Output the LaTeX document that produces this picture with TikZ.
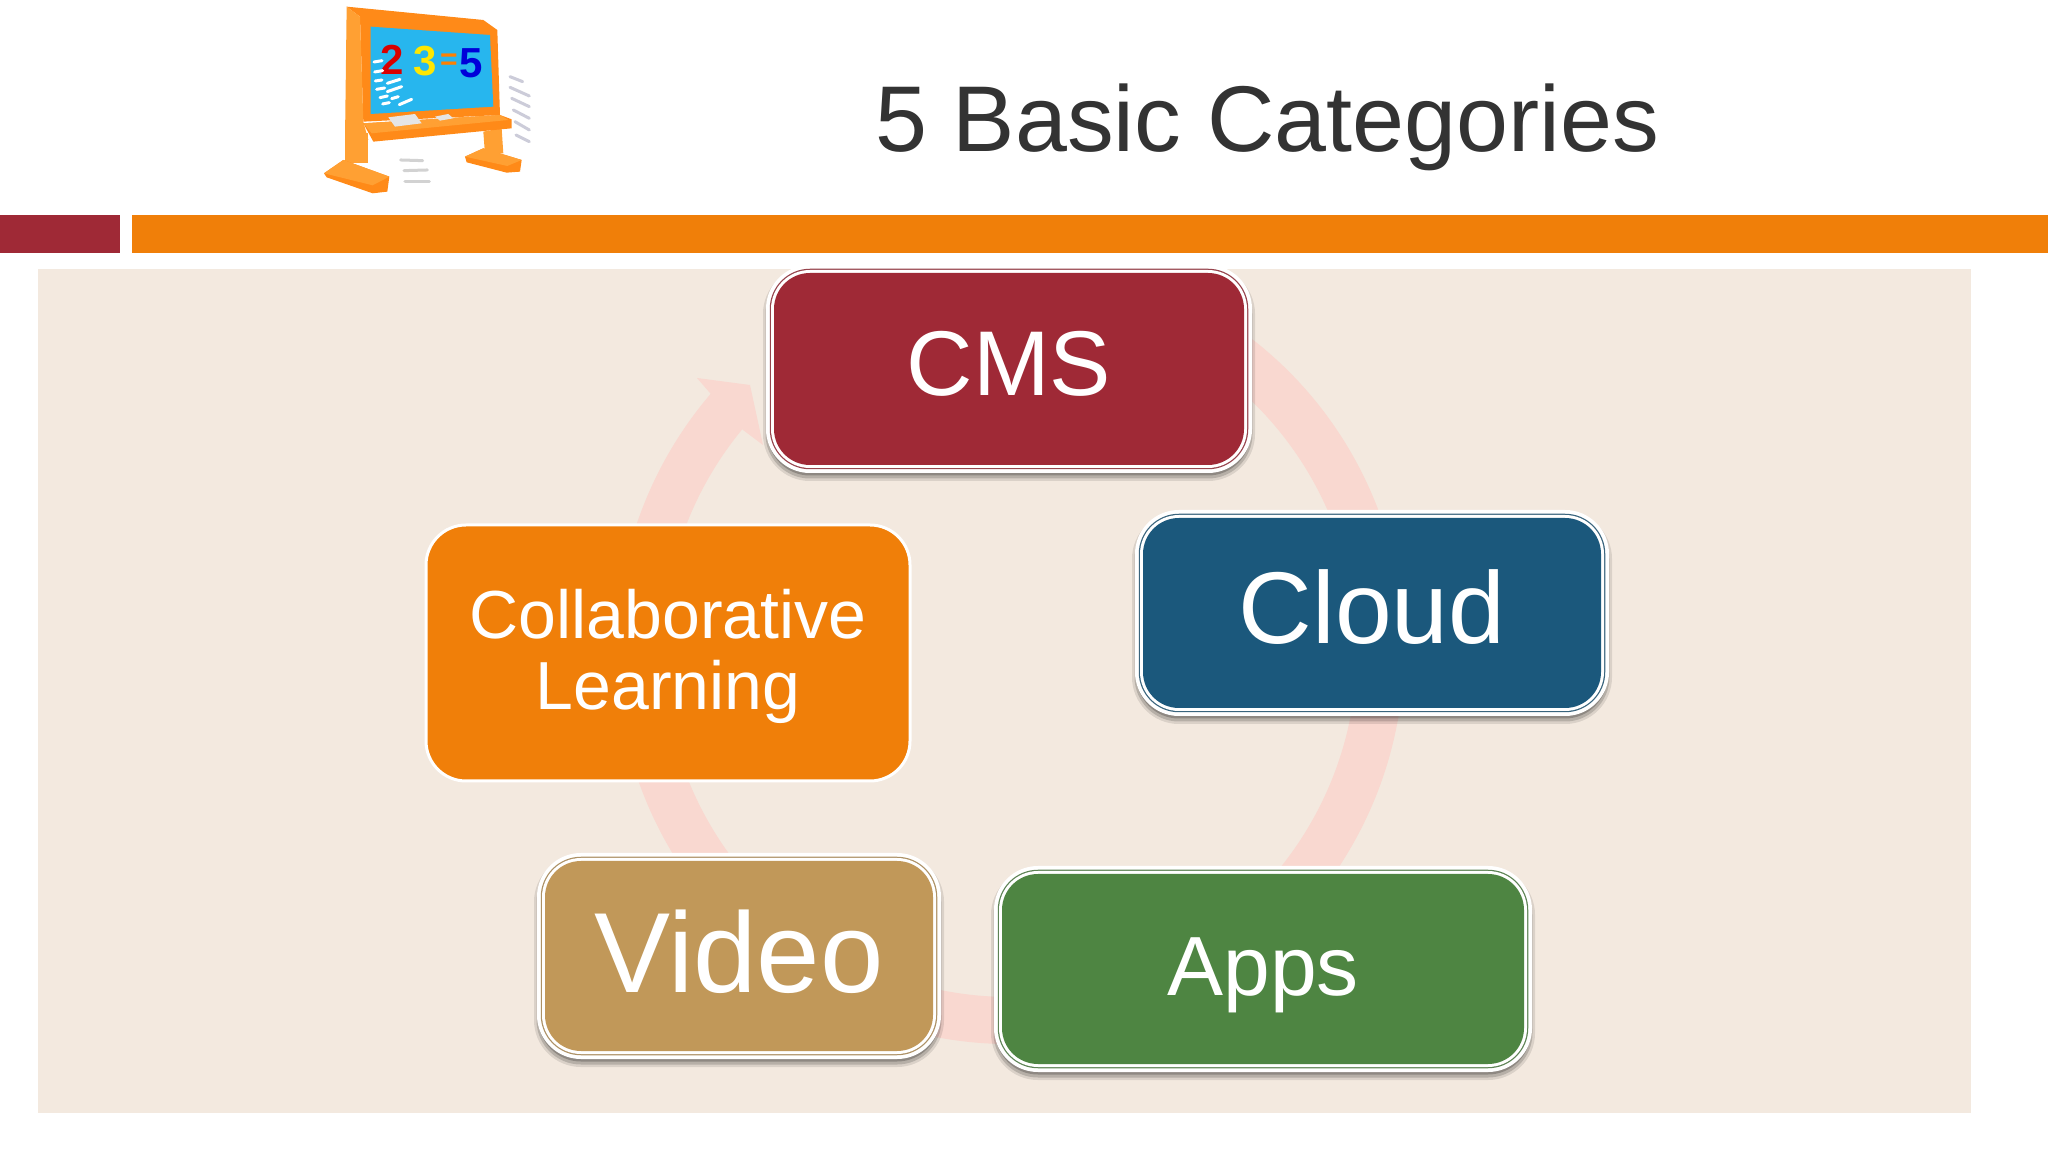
\documentclass[tikz,border=0pt]{standalone}
\usepackage{fontspec}
\setmainfont{Liberation Sans}
\usetikzlibrary{calc}
\definecolor{barred}{HTML}{9F2936}
\definecolor{barorange}{HTML}{F07F09}
\definecolor{nodeblue}{HTML}{1B587C}
\definecolor{nodegreen}{HTML}{4E8542}
\definecolor{nodetan}{HTML}{C19859}
\definecolor{panel}{HTML}{F3E9DF}
\definecolor{ringpink}{HTML}{F9D8D0}
\definecolor{titlegray}{HTML}{333333}
\definecolor{frameor}{HTML}{FF8A18}
\definecolor{postor}{HTML}{FFA033}
\definecolor{screenblue}{HTML}{27B6EE}
\newcommand{\fsz}[1]{\fontsize{#1}{#1}\selectfont}
\newcommand{\droptext}[2]{\raisebox{#1}[0pt][0pt]{#2}}
\tikzset{
  x=1pt,y=1pt,
  basebox/.style={rounded corners=36pt,inner sep=0pt,align=center,text=white,outer sep=0pt},
  ringed/.style={basebox,fill=#1,
    preaction={draw=black,draw opacity=.10,line width=22pt,transform canvas={yshift=-5pt}},
    preaction={draw=black,draw opacity=.16,line width=17pt,transform canvas={yshift=-5pt}},
    preaction={draw=black,draw opacity=.22,line width=13pt,transform canvas={yshift=-4pt}},
    preaction={draw=white,line width=16pt},
    preaction={draw=#1!70!gray,line width=8.5pt},
    preaction={draw=white,line width=6pt}},
  plainbox/.style={basebox,fill=barorange,draw=white,line width=3pt,rounded corners=40pt},
  chalk/.style={draw=white,line width=3pt,line cap=round},
  motion/.style={draw=#1,line width=3pt,line cap=round}
}
\begin{document}
\begin{tikzpicture}
\useasboundingbox (0,0) rectangle (2048,1152);
\fill[white] (0,0) rectangle (2048,1152);
% bars and panel
\fill[barred] (0,899) rectangle (120,937);
\fill[barorange] (132,899) rectangle (2048,937);
\fill[panel] (38,39) rectangle (1971,883);
% ring
\coordinate (ringc) at (1010,502);
\fill[ringpink]
  ($(ringc)+(60:394)$) arc[start angle=60,end angle=-220.6,radius=394]
  -- ($(ringc)+(139.4:347)$) arc[start angle=-220.6,end angle=60,radius=347] -- cycle;
\fill[ringpink] (697,774) -- (750,767) -- (763,707) -- (743,722) -- (710,759) -- cycle;
% nodes
\node[ringed=barred,minimum width=470pt,minimum height=192pt] (cms) at (1009,783) {\droptext{-27pt}{\fsz{92}CMS}};
\node[ringed=nodeblue,minimum width=458pt,minimum height=190pt] (cloud) at (1372,539) {\droptext{-31pt}{\fsz{102}Cloud}};
\node[ringed=nodetan,minimum width=388pt,minimum height=190pt] (video) at (739,196) {\droptext{-36pt}{\fsz{114}Video}};
\node[ringed=nodegreen,minimum width=522pt,minimum height=190pt] (apps) at (1263,183) {\droptext{-26pt}{\fsz{84}Apps}};
\node[plainbox,minimum width=484pt,minimum height=256pt,font=\fontsize{68}{71}\selectfont] (collab) at (668,499) {\rule{0pt}{56pt}Collaborative\\Learning};
% title
\node[anchor=base,text=titlegray,inner sep=0pt] (title) at (1267,1000) {\fsz{93.4}5 Basic Categories};
% chalkboard picture
\begin{scope}[shift={(300,1152)},x=.3333pt,y=-.3333pt]
  \fill[frameor] (495,470) -- (550,445) -- (665,480) -- (660,515) -- (620,518) -- (500,487) -- cycle;
  \fill[postor] (495,470) -- (550,445) -- (665,480) -- (622,498) -- cycle;
  \fill[postor] (550,395) -- (605,385) -- (610,460) -- (555,462) -- cycle;
  \fill[postor] (135,400) -- (205,400) -- (205,490) -- (135,490) -- cycle;
  \fill[frameor] (72,520) -- (130,480) -- (268,530) -- (262,575) -- (218,580) -- (80,532) -- cycle;
  \fill[postor] (72,520) -- (130,480) -- (268,530) -- (218,556) -- cycle;
  \fill[frameor] (140,20) -- (550,60) -- (592,90) -- (600,345) -- (190,365) -- (180,50) -- cycle;
  \fill[postor] (140,20) -- (180,50) -- (190,365) -- (205,420) -- (135,420) -- cycle;
  \fill[screenblue] (212,80) -- (570,105) -- (580,320) -- (212,342) -- cycle;
  \fill[frameor] (190,370) -- (600,345) -- (635,358) -- (635,385) -- (220,425) -- cycle;
  \fill[postor] (190,370) -- (600,345) -- (625,360) -- (215,400) -- cycle;
  \fill[gray!20] (265,352) -- (345,342) -- (365,370) -- (285,380) -- cycle;
  \fill[gray!20] (405,350) -- (445,342) -- (460,355) -- (420,362) -- cycle;
  \node[text=red!85!black,font=\bfseries\fsz{42}] (dtwo) at (278,180) {2};
  \node[text=yellow!90!orange,font=\bfseries\fsz{42}] (dthree) at (376,182) {3};
  \node[text=orange,font=\bfseries\fsz{30}] (deq) at (447,186) {=};
  \node[text=blue!85!black,font=\bfseries\fsz{42}] (dfive) at (513,190) {5};
  \draw[chalk] (222,186) -- (246,182);
  \draw[chalk] (224,216) -- (248,212);
  \draw[chalk] (226,243) -- (246,240) (262,250) -- (300,238);
  \draw[chalk] (230,268) -- (254,264) (262,275) -- (305,260);
  \draw[chalk] (240,293) -- (262,288) (275,296) -- (295,290);
  \draw[chalk] (248,312) -- (268,308) (298,314) -- (335,298);
  \draw[motion=blue!15!gray!35] (630,230) -- (668,245);
  \draw[motion=blue!15!gray!35] (630,262) -- (688,288);
  \draw[motion=blue!15!gray!35] (635,295) -- (688,320);
  \draw[motion=blue!15!gray!35] (640,330) -- (688,355);
  \draw[motion=blue!15!gray!35] (645,365) -- (688,390);
  \draw[motion=blue!15!gray!35] (648,405) -- (688,425);
  \draw[motion=gray!35] (302,480) -- (368,482);
  \draw[motion=gray!35] (312,512) -- (382,510);
  \draw[motion=gray!35] (315,545) -- (388,545);
\end{scope}
\end{tikzpicture}
\end{document}
